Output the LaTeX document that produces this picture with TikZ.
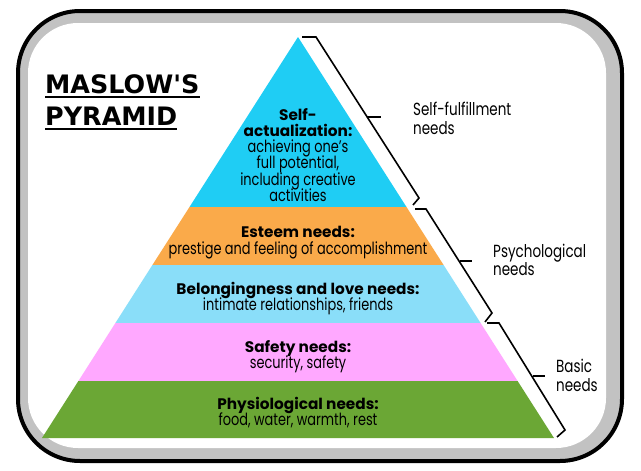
\documentclass[tikz,border=0pt]{standalone}
\usepackage{fontspec}
\usepackage{graphicx}
\setmainfont{Poppins}
\newfontfamily\titlefont{DejaVu Sans}
\newcommand{\tallText}[1]{\scalebox{1}[1.3]{#1}}
\definecolor{cyanA}{HTML}{1FCDF4}
\definecolor{orangeA}{HTML}{FAAA4A}
\definecolor{blueA}{HTML}{8ADEF9}
\definecolor{pinkA}{HTML}{FFA8FF}
\definecolor{greenA}{HTML}{6BA735}
\definecolor{frameGray}{HTML}{C2C2C2}
\begin{document}
\begin{tikzpicture}[x=1pt,y=-1pt,
  hd/.style={font=\fontsize{15.3}{17}\selectfont\bfseries, anchor=base, inner sep=0},
  tx/.style={font=\fontsize{12.9}{15}\selectfont, anchor=base, inner sep=0},
  side/.style={font=\fontsize{13.5}{16}\selectfont, anchor=base west, inner sep=0},
  ttl/.style={font=\titlefont\bfseries\fontsize{25.4}{29}\selectfont, anchor=base west, inner sep=0},
  brace/.style={draw=black, line width=1.6pt, line join=miter},
  uline/.style={draw=black, line width=2.4pt}]
\useasboundingbox (0,0) rectangle (641,471);
% frame
\draw[line width=4pt, fill=frameGray, rounded corners=62pt] (18,11) rectangle (622,461);
\fill[white, rounded corners=50pt] (28,23) rectangle (606,448);
% pyramid layers
\fill[cyanA] (298,37) -- (406.5,207) -- (189.5,207) -- cycle;
\fill[orangeA] (189.5,207) -- (406.5,207) -- (443.6,265) -- (152.4,265) -- cycle;
\fill[blueA] (152.4,265) -- (443.6,265) -- (480.6,323) -- (115.4,323) -- cycle;
\fill[pinkA] (115.4,323) -- (480.6,323) -- (517.6,381) -- (78.4,381) -- cycle;
\fill[greenA] (78.4,381) -- (517.6,381) -- (554,438) -- (42,438) -- cycle;
% braces
\draw[brace] (302,37) -- (316,37) -- (419,198) -- (413,205);
\draw[brace] (367,117) -- (381,117);
\draw[brace] (415,209) -- (426,209) -- (492,313) -- (485,322);
\draw[brace] (460,261) -- (472,261);
\draw[brace] (487,323) -- (499,323) -- (565,430) -- (557,437);
\draw[brace] (533,376) -- (545,376);
% title
\node[ttl] (t1) at (45,93) {MASLOW'S};
\node[ttl] (t2) at (45,125) {PYRAMID};
\draw[uline] ([yshift=-4pt]t1.base west) -- ([yshift=-4pt]t1.base east);
\draw[uline] ([yshift=-4pt]t2.base west) -- ([yshift=-4pt]t2.base east);
% pyramid texts
\node[hd] (s1) at (298,120) {Self-};
\node[hd] (s2) at (298,136) {actualization:};
\node[tx] (s3) at (298,152) {\tallText{achieving one’s}};
\node[tx] (s4) at (298,168.5) {\tallText{full potential,}};
\node[tx] (s5) at (298,185) {\tallText{including creative}};
\node[tx] (s6) at (298,201.5) {\tallText{activities}};
\node[hd] (e1) at (298,237) {Esteem needs:};
\node[tx] (e2) at (298,254) {\tallText{prestige and feeling of accomplishment}};
\node[hd] (b1) at (298,294) {Belongingness and love needs:};
\node[tx] (b2) at (298,310) {\tallText{intimate relationships, friends}};
\node[hd] (f1) at (298,352) {Safety needs:};
\node[tx] (f2) at (298,368) {\tallText{security, safety}};
\node[hd] (p1) at (298,409) {Physiological needs:};
\node[tx] (p2) at (298,425) {\tallText{food, water, warmth, rest}};
% side labels
\node[side] (r1) at (413,115.5) {\tallText{Self-fulfillment}};
\node[side] (r2) at (413,134) {\tallText{needs}};
\node[side] (r3) at (493,257) {\tallText{Psychological}};
\node[side] (r4) at (493,275.5) {\tallText{needs}};
\node[side] (r5) at (556,372) {\tallText{Basic}};
\node[side] (r6) at (556,391) {\tallText{needs}};
\end{tikzpicture}
\end{document}
